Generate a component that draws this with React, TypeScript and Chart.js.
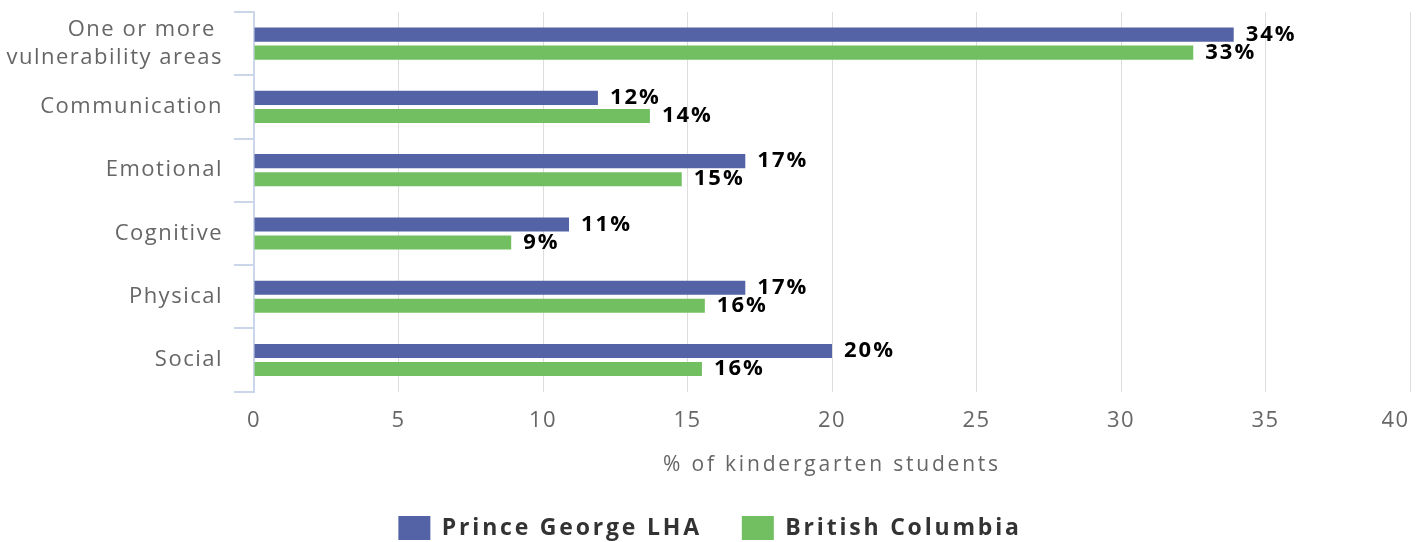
import React, { useEffect, useRef } from "react";
import { Chart, registerables } from "chart.js";

Chart.register(...registerables);

const categories: (string | string[])[] = [
  ["One or more ", "vulnerability areas"],
  "Communication",
  "Emotional",
  "Cognitive",
  "Physical",
  "Social",
];
const princeGeorgeValues = [33.9, 11.9, 17.0, 10.9, 17.0, 20.0];
const britishColumbiaValues = [32.5, 13.7, 14.8, 8.9, 15.6, 15.5];
const seriesNames = ["Prince George LHA", "British Columbia"];
const xTicks = [0, 5, 10, 15, 20, 25, 30, 35, 40];
const xTitle = "% of kindergarten students";

const FONT = '"Open Sans", "DejaVu Sans", sans-serif';
const BLUE = "#5363a5";
const GREEN = "#72bf61";

const textPlugin = {
  id: "textTweaks",
  beforeUpdate(chart: any) {
    chart.ctx.letterSpacing = "2.8px";
  },
  beforeLayout(chart: any) {
    chart.ctx.letterSpacing = "2.8px";
  },
  beforeDraw(chart: any) {
    chart.ctx.letterSpacing = "2.8px";
  },
  beforeDatasetsDraw(chart: any) {
    chart.ctx.letterSpacing = "1.5px";
  },
  afterDatasetsDraw(chart: any) {
    const ctx = chart.ctx;
    ctx.save();
    ctx.letterSpacing = "2px";
    ctx.font = `bold 22px ${FONT}`;
    ctx.fillStyle = "#000000";
    ctx.textAlign = "left";
    ctx.textBaseline = "middle";
    chart.data.datasets.forEach((ds: any, i: number) => {
      const meta = chart.getDatasetMeta(i);
      meta.data.forEach((bar: any, j: number) => {
        const v = ds.data[j] as number;
        ctx.fillText(Math.round(v) + "%", bar.x + 12, bar.y);
      });
    });
    ctx.restore();
    ctx.letterSpacing = "1.5px";
  },
};

export default function App() {
  const ref = useRef<HTMLCanvasElement | null>(null);
  useEffect(() => {
    if (!ref.current) return;
    const chart = new Chart(ref.current, {
      type: "bar",
      data: {
        labels: categories,
        datasets: [
          {
            label: seriesNames[0],
            data: princeGeorgeValues,
            backgroundColor: BLUE,
            borderWidth: 0,
            categoryPercentage: 0.57,
            barPercentage: 0.78,
          },
          {
            label: seriesNames[1],
            data: britishColumbiaValues,
            backgroundColor: GREEN,
            borderWidth: 0,
            categoryPercentage: 0.57,
            barPercentage: 0.78,
          },
        ],
      },
      options: {
        indexAxis: "y",
        animation: false,
        responsive: true,
        maintainAspectRatio: false,
        layout: { padding: { top: 12, left: 0, right: 0, bottom: -8 } },
        plugins: {
          tooltip: { enabled: false },
          legend: {
            position: "bottom",
            labels: {
              boxWidth: 32,
              boxHeight: 24,
              padding: 40,
              color: "#333333",
              font: { family: FONT, size: 23, weight: "bold" },
            },
          },
        },
        scales: {
          x: {
            min: 0,
            max: 40,
            afterBuildTicks(scale: any) {
              scale.ticks = xTicks.map((v) => ({ value: v }));
            },
            afterFit(scale: any) {
              scale.paddingRight = 10;
              scale.paddingLeft = 0;
            },
            grid: { color: "#dddddd", lineWidth: 1, drawTicks: false },
            border: { display: false },
            ticks: {
              padding: 16,
              color: "#666666",
              font: { family: FONT, size: 22 },
              z: 1,
              callback: (v: any) => (v === 40 ? "40    " : String(v)),
            },
            title: {
              display: true,
              text: xTitle,
              color: "#666666",
              font: { family: FONT, size: 21, lineHeight: 1.0 },
              padding: { top: 5, bottom: 0 },
            },
          },
          y: {
            afterFit(scale: any) {
              scale.width = 254;
              scale.paddingTop = 0;
              scale.paddingBottom = 0;
            },
            grid: {
              drawOnChartArea: false,
              drawTicks: true,
              tickLength: 20,
              color: "#ccd6eb",
              lineWidth: 2,
            },
            border: { display: true, color: "#ccd6eb", width: 2 },
            ticks: {
              padding: 11,
              color: "#666666",
              font: { family: FONT, size: 22, lineHeight: 1.3 },
              z: 1,
            },
          },
        },
      },
      plugins: [textPlugin],
    } as any);
    return () => chart.destroy();
  }, []);
  return (
    <div style={{ position: "absolute", left: 0, top: 0, width: 1420, height: 542 }}>
      <canvas ref={ref} />
    </div>
  );
}
